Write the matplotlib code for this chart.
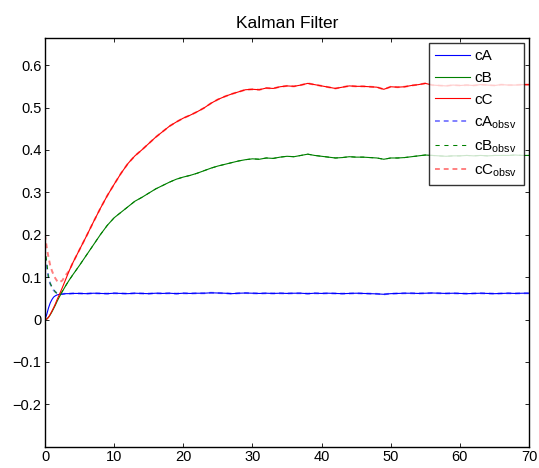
import numpy as np
import matplotlib
matplotlib.use("Agg")
import matplotlib.pyplot as plt

plt.rcParams['font.family'] = ['Liberation Sans', 'DejaVu Sans']
plt.rcParams['mathtext.default'] = 'regular'

# ---- data ----
t_early = [0, 0.25, 0.5, 0.75, 1, 1.25, 1.5, 1.75, 2, 2.5, 3, 3.5, 4]
t_late = list(range(5, 71))

cA_early = [0, 0.012, 0.027, 0.039, 0.047, 0.053, 0.056, 0.058, 0.059, 0.060, 0.061, 0.061, 0.0615]
cA_late = [0.0615, 0.061, 0.062, 0.0615, 0.061, 0.062, 0.0615, 0.061, 0.062, 0.0615,   # 5-14
           0.061, 0.062, 0.0615, 0.062, 0.061, 0.062, 0.0615, 0.062, 0.062, 0.063,     # 15-24
           0.0625, 0.062, 0.061, 0.062, 0.0625, 0.062, 0.0615, 0.062, 0.0615, 0.062,   # 25-34
           0.0615, 0.062, 0.062, 0.061, 0.062, 0.0615, 0.062, 0.0615, 0.061, 0.0615,   # 35-44
           0.062, 0.0615, 0.061, 0.0605, 0.0595, 0.061, 0.0615, 0.062, 0.062, 0.0615,  # 45-54
           0.062, 0.0625, 0.062, 0.0615, 0.062, 0.0615, 0.061, 0.0615, 0.062, 0.0615,  # 55-64
           0.061, 0.0615, 0.062, 0.0615, 0.062, 0.062]                                 # 65-70

cB_early = [0, 0.001, 0.005, 0.011, 0.018, 0.026, 0.034, 0.043, 0.051, 0.066, 0.080, 0.093, 0.105]
cB_late = [0.128, 0.152, 0.176, 0.200, 0.222, 0.240, 0.253, 0.266, 0.279, 0.288,
           0.298, 0.308, 0.316, 0.324, 0.331, 0.336, 0.340, 0.345, 0.351, 0.357,
           0.362, 0.366, 0.370, 0.374, 0.377, 0.379, 0.378, 0.381, 0.380, 0.383,
           0.385, 0.384, 0.387, 0.390, 0.387, 0.385, 0.383, 0.381, 0.382, 0.384,
           0.383, 0.383, 0.382, 0.381, 0.378, 0.381, 0.381, 0.382, 0.384, 0.386,
           0.388, 0.387, 0.386, 0.385, 0.386, 0.386, 0.387, 0.386, 0.387, 0.386,
           0.387, 0.387, 0.387, 0.388, 0.387, 0.387]

cC_early = [0, 0.001, 0.005, 0.012, 0.020, 0.028, 0.037, 0.047, 0.056, 0.075, 0.095, 0.115, 0.133]
cC_late = [0.165, 0.197, 0.230, 0.262, 0.292, 0.319, 0.345, 0.368, 0.386, 0.400,
           0.415, 0.430, 0.443, 0.456, 0.466, 0.475, 0.482, 0.490, 0.499, 0.510,
           0.519, 0.526, 0.532, 0.537, 0.542, 0.543, 0.542, 0.546, 0.545, 0.549,
           0.551, 0.550, 0.553, 0.557, 0.554, 0.551, 0.548, 0.545, 0.548, 0.551,
           0.550, 0.550, 0.549, 0.548, 0.543, 0.549, 0.548, 0.549, 0.552, 0.554,
           0.557, 0.553, 0.552, 0.551, 0.553, 0.552, 0.553, 0.552, 0.554, 0.553,
           0.552, 0.554, 0.553, 0.553, 0.554, 0.554]

# observer estimates during the initial transient (afterwards they track the states)
cA_obsv_start = [0.150, 0.125, 0.100, 0.085, 0.075, 0.069, 0.065, 0.062, 0.061]
cB_obsv_start = [0.170, 0.135, 0.100, 0.085, 0.077, 0.070, 0.065, 0.061, 0.058, 0.066]
cC_obsv_start = [0.200, 0.170, 0.147, 0.128, 0.115, 0.105, 0.097, 0.091, 0.087, 0.092, 0.105, 0.115]

labels = ['cA', 'cB', 'cC', 'cA$_{obsv}$', 'cB$_{obsv}$', 'cC$_{obsv}$']
title = 'Kalman Filter'

t = t_early + t_late
cA = cA_early + cA_late
cB = cB_early + cB_late
cC = cC_early + cC_late
cA_obsv = cA_obsv_start + cA[len(cA_obsv_start):]
cB_obsv = cB_obsv_start + cB[len(cB_obsv_start):]
cC_obsv = cC_obsv_start + cC[len(cC_obsv_start):]

fig = plt.figure(figsize=(5.39, 4.68), dpi=100)
ax = fig.add_axes([0.0835, 0.0455, 0.898, 0.8733])

h_obA, = ax.plot(t, cA_obsv, color='#8080ff', ls=(0, (2.5, 2)), lw=1.4, zorder=1)
h_obB, = ax.plot(t, cB_obsv, color='#008000', ls=(0, (4, 4.5)), lw=0.75, zorder=1)
h_obC, = ax.plot(t, cC_obsv, color='#ff8080', ls=(0, (2.5, 2)), lw=1.4, zorder=1)
hA, = ax.plot(t, cA, color='#0000ff', lw=0.8, zorder=2)
hB, = ax.plot(t, cB, color='#008000', lw=0.8, zorder=2)
hC, = ax.plot(t, cC, color='#ff0000', lw=0.8, zorder=2)

ax.set_xlim(0, 70)
ax.set_ylim(-0.3, 0.664)
ax.set_xticks(np.arange(0, 71, 10))
ax.set_yticks(np.round(np.arange(-0.2, 0.61, 0.1), 1))
ax.yaxis.set_major_formatter(matplotlib.ticker.FuncFormatter(
    lambda v, p: ('%g' % round(v, 1)).replace('-', '\u2212')))
ax.tick_params(direction='in', top=True, right=True, labelsize=10.5,
               length=3, width=0.6, pad=2.5)
for s in ax.spines.values():
    s.set_linewidth(1.0)

ax.set_title(title, fontsize=12.5, pad=7)

leg = ax.legend([hA, hB, hC, h_obA, h_obB, h_obC], labels,
                loc='upper right', bbox_to_anchor=(1.0, 1.0), borderaxespad=0.35,
                fontsize=11, frameon=True, fancybox=False, handlelength=2.3,
                handletextpad=0.25, labelspacing=0.5, borderpad=0.4)
leg.get_frame().set_edgecolor('black')
leg.get_frame().set_linewidth(1.0)

fig.savefig('out.png', dpi=100)
